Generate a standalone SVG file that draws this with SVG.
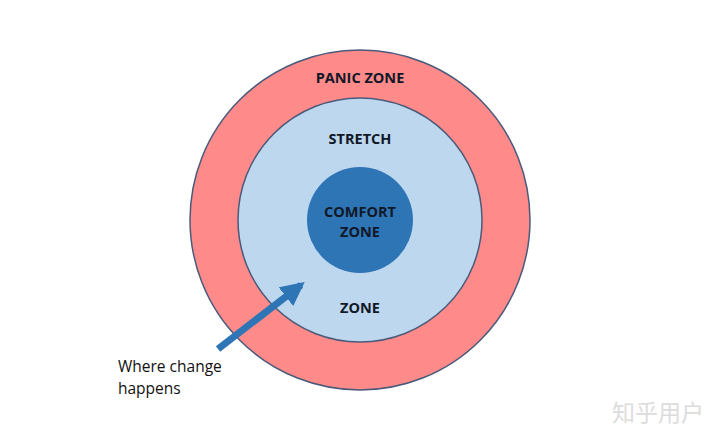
<svg xmlns="http://www.w3.org/2000/svg" width="720" height="441" viewBox="0 0 720 441">
<style>
.ring{stroke:#4a5a7a;stroke-width:1.5}
.lbl{font-family:"Open Sans","Liberation Sans",sans-serif;font-weight:bold;font-size:14.5px;fill:#111827;text-anchor:middle}
.note{font-family:"Open Sans","Liberation Sans",sans-serif;font-size:15.5px;fill:#111}
</style>
<defs>
<marker id="ah" viewBox="0 0 10 10" refX="8" refY="5" markerWidth="3.4" markerHeight="3.4" orient="auto" markerUnits="strokeWidth">
<path d="M0,0 L10,5 L0,10 z" fill="#2E75B6"/>
</marker>
</defs>
<rect width="720" height="441" fill="#fff"/>
<g id="panic">
<circle class="ring" cx="360" cy="220" r="170" fill="#FF8A8A"/>
<text class="lbl" x="360" y="83">PANIC ZONE</text>
</g>
<g id="stretch">
<circle class="ring" cx="360" cy="220" r="122" fill="#BDD7EE"/>
<text class="lbl" x="360" y="144">STRETCH</text>
<text class="lbl" x="360" y="313">ZONE</text>
</g>
<g id="comfort">
<circle cx="360" cy="220" r="53" fill="#2E75B6"/>
<text class="lbl" x="360" y="217">COMFORT</text>
<text class="lbl" x="360" y="237">ZONE</text>
</g>
<g id="connectors">
<line x1="218" y1="349" x2="301" y2="285" stroke="#2E75B6" stroke-width="7" marker-end="url(#ah)"/>
</g>
<g id="note">
<text class="note" x="118" y="372">Where change</text>
<text class="note" x="118" y="394">happens</text>
</g>
<text x="612" y="421" font-family="Noto Sans CJK SC,sans-serif" font-size="23" fill="#dcdcdc">知乎用户</text>
</svg>
